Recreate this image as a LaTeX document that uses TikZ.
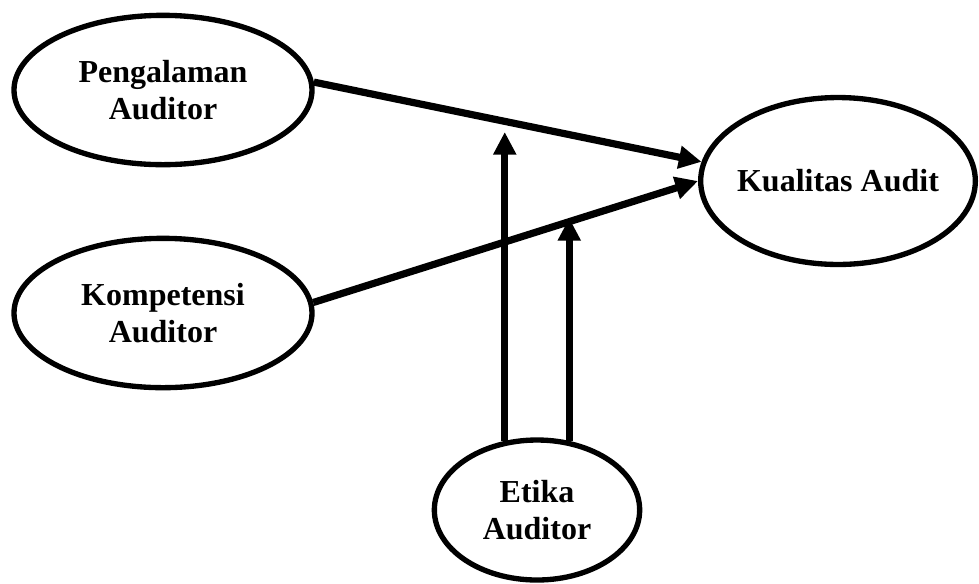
\documentclass[tikz,border=0pt]{standalone}
\usepackage{fontspec}
\setmainfont{Liberation Serif}
\usetikzlibrary{arrows.meta,shapes.geometric}

\begin{document}
\begin{tikzpicture}[
    x=0.375pt,y=-0.375pt,
    var/.style={ellipse,draw=black,line width=2pt,fill=white,inner sep=0pt,align=center,font=\fontsize{12}{13.9}\selectfont\bfseries},
    arrow/.style={-{Triangle[length=8.5pt,width=8.2pt]},line width=2.7pt,draw=black}
]
\useasboundingbox (0,0) rectangle (979,583);
\node[var,minimum width=111.75pt,minimum height=56pt] (peng) at (163,90) {Pengalaman\\Auditor};
\node[var,minimum width=111.75pt,minimum height=56pt] (komp) at (163,313) {Kompetensi\\Auditor};
\node[var,minimum width=103pt,minimum height=62.6pt] (kual) at (838,181) {\makebox[50pt]{Kualitas Audit}};
\node[var,minimum width=77pt,minimum height=52.5pt] (etika) at (537,510) {Etika\\Auditor};
\coordinate (m1) at (505,132);
\coordinate (m2) at (568,218);
\draw[arrow] (peng.3) -- (kual.172);
\draw[arrow] (komp.4) -- (kual.west);
\draw[arrow] (etika.115) -- (etika.115 |- m1);
\draw[arrow] (etika.65) -- (etika.65 |- m2);
\end{tikzpicture}
\end{document}
